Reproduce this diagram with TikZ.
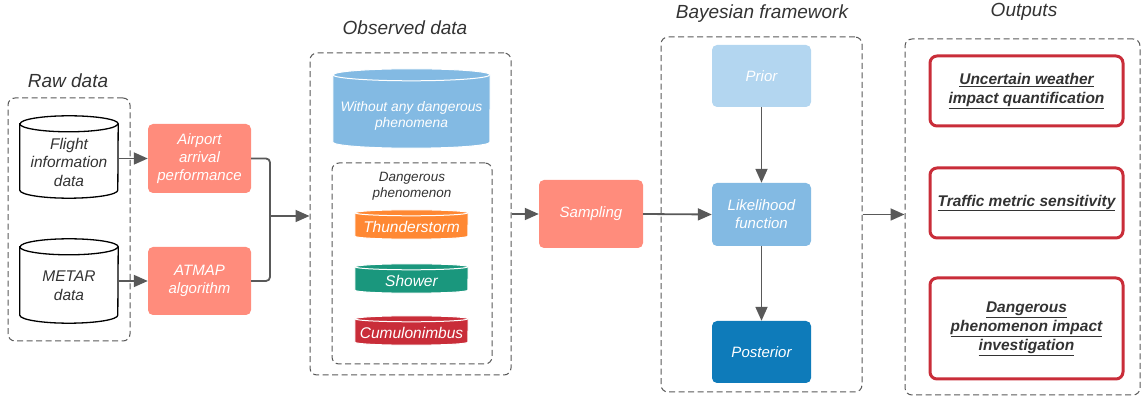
\documentclass[tikz,border=0pt]{standalone}
\usepackage{fontspec}
\setmainfont{Liberation Sans}
\usetikzlibrary{arrows.meta,calc}
\definecolor{salmon}{HTML}{FF8C7C}
\definecolor{lblue}{HTML}{B3D6F0}
\definecolor{mblue}{HTML}{83BAE3}
\definecolor{dblue}{HTML}{0E7BBA}
\definecolor{orng}{HTML}{FF8833}
\definecolor{teal2}{HTML}{1A977D}
\definecolor{red2}{HTML}{C92D39}
\definecolor{txt}{HTML}{333333}
\definecolor{lgray}{HTML}{595959}
\newcommand\mycyl[9]{%
% #1 name #2 cx #3 cy #4 w #5 h #6 ry #7 fill #8 draw #9 line width
\node[minimum width=#4pt, minimum height=#5pt, inner sep=0pt] (#1) at (#2,#3) {};
\path[fill=#7,draw=#8,line width=#9] ($(#1.north west)+(0,-#6)$) -- ($(#1.south west)+(0,#6)$)
  arc[start angle=180,end angle=360,x radius=#4/2*1pt,y radius=#6pt]
  -- ($(#1.north east)+(0,-#6)$)
  arc[start angle=0,end angle=180,x radius=#4/2*1pt,y radius=#6pt] -- cycle;
\path[draw=#8,line width=#9] ($(#1.north west)+(0,-#6)$)
  arc[start angle=180,end angle=360,x radius=#4/2*1pt,y radius=#6pt];
}
\tikzset{
  x=1pt,y=1pt,
  heading/.style={font=\fontsize{19}{22}\selectfont\itshape, text=txt},
  proc/.style={rounded corners=5pt, inner sep=0pt, align=center, text=white,
     font=\fontsize{15}{18}\selectfont\itshape},
  cyltext/.style={align=center, font=\fontsize{15.5}{18.5}\selectfont\itshape},
  grp/.style={draw=lgray, dash pattern=on 6pt off 3.5pt, line width=1pt, rounded corners=7pt, inner sep=0pt},
  outbox/.style={draw=red2, line width=3pt, rounded corners=7pt, align=center, text=txt,
     font=\fontsize{15.5}{19}\selectfont\bfseries\itshape, inner sep=0pt},
  arr/.style={draw=lgray, line width=1.8pt, -{Triangle[length=14pt,width=12pt]}},
  lnk/.style={draw=lgray, line width=1.8pt, rounded corners=4pt},
}
\begin{document}
\begin{tikzpicture}
\useasboundingbox (0,0) rectangle (1141,396);
% group boxes
\node[grp, minimum width=122pt, minimum height=243pt] (raw) at (69,176.5) {};
\node[heading] (rawl) at (68,315) {Raw data};
\node[grp, minimum width=201pt, minimum height=322pt] (obs) at (410.5,182) {};
\node[heading] (obsl) at (405,368) {Observed data};
\node[grp, minimum width=160pt, minimum height=201pt] (dang) at (412,132.5) {};
\node[grp, minimum width=201pt, minimum height=355pt] (bay) at (761.5,181.5) {};
\node[heading] (bayl) at (762,382) {Bayesian framework};
\node[grp, minimum width=235pt, minimum height=356pt] (outg) at (1022.5,179) {};
\node[heading] (outl) at (1024,384) {Outputs};
% raw data cylinders
\mycyl{flight}{69}{239}{98}{82}{8}{white}{black}{1.3pt}
\node[cyltext, text=txt] at (69,234) {Flight\\information\\data};
\mycyl{metar}{69}{115}{98}{84}{8}{white}{black}{1.3pt}
\node[cyltext, text=txt] at (69,110) {METAR\\data};
% processing
\node[proc, fill=salmon, minimum width=103pt, minimum height=69pt] (airp) at (199.5,237.5) {Airport\\arrival\\performance};
\node[proc, fill=salmon, minimum width=103pt, minimum height=68pt] (atmap) at (199.5,115) {ATMAP\\algorithm};
% observed
\mycyl{without}{411.5}{287.5}{157}{79}{6}{mblue}{white}{1pt}
\node[cyltext, text=white, font=\fontsize{13.8}{16.5}\selectfont\itshape] at (411.5,280) {Without any dangerous\\phenomena};
\node[align=center, text=txt, font=\fontsize{13.5}{16}\selectfont\itshape] (dangl) at (412,210) {Dangerous\\phenomenon};
\mycyl{thund}{411.5}{171.5}{113}{29}{3}{orng}{white}{1pt}
\node[text=white, font=\fontsize{15.5}{18}\selectfont\itshape] at (411.5,169.5) {Thunderstorm};
\mycyl{shower}{411.5}{117.5}{113}{29}{3}{teal2}{white}{1pt}
\node[text=white, font=\fontsize{15.5}{18}\selectfont\itshape] at (411.5,115.5) {Shower};
\mycyl{cumu}{411.5}{65.5}{113}{29}{3}{red2}{white}{1pt}
\node[text=white, font=\fontsize{15.5}{18}\selectfont\itshape] at (411.5,63.5) {Cumulonimbus};
% sampling & bayes
\node[proc, fill=salmon, minimum width=104pt, minimum height=68pt] (samp) at (591,182) {Sampling};
\node[proc, fill=lblue, minimum width=99pt, minimum height=62pt] (prior) at (761.5,320) {Prior};
\node[proc, fill=mblue, minimum width=99pt, minimum height=63pt] (lik) at (761.5,181.5) {Likelihood\\function};
\node[proc, fill=dblue, minimum width=99pt, minimum height=62pt] (post) at (761.5,44) {Posterior};
% outputs
\node[outbox, minimum width=193pt, minimum height=70pt] (o1) at (1026.5,305) {\underline{Uncertain weather}\\\underline{impact quantification}};
\node[outbox, minimum width=193pt, minimum height=70pt] (o2) at (1026.5,193) {\underline{Traffic metric sensitivity}};
\node[outbox, minimum width=193pt, minimum height=101pt] (o3) at (1026.5,67.5) {\underline{Dangerous}\\\underline{phenomenon impact}\\\underline{investigation}};
% connectors
\draw[arr] (flight.east |- airp.west) -- (airp.west);
\draw[arr] (metar.east |- atmap.west) -- (atmap.west);
\coordinate (jx) at (270,180);
\draw[lnk] (airp.east) -| (jx);
\draw[lnk] (atmap.east) -| (jx);
\draw[arr] (jx) -- (obs.west |- jx);
\draw[arr] (obs.east |- samp.west) -- (samp.west);
\draw[arr] (samp.east) -- (lik.west);
\draw[arr] (prior.south) -- (lik.north);
\draw[arr] (lik.south) -- (post.north);
\draw[arr] (bay.east |- lik.east) -- (outg.west |- lik.east);
\end{tikzpicture}
\end{document}
